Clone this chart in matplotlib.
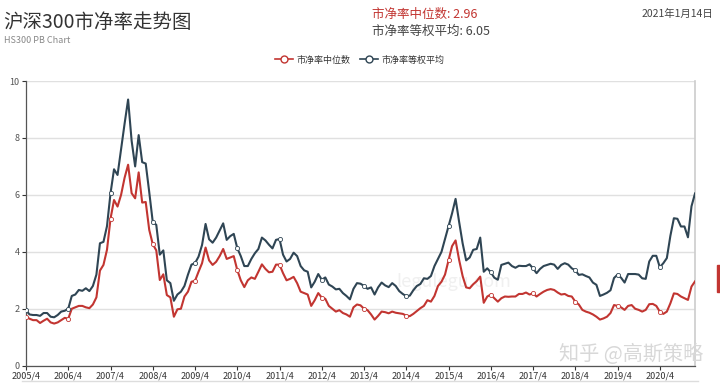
import matplotlib
matplotlib.use("Agg")
import matplotlib.pyplot as plt
from matplotlib.lines import Line2D
from matplotlib.patches import Rectangle
import numpy as np

plt.rcParams['font.family'] = ['Noto Sans CJK SC', 'DejaVu Sans']

# monthly values, 2005/4 .. 2021/1
pb_avg = [1.95, 1.8, 1.78, 1.78, 1.75, 1.85, 1.85, 1.72, 1.7, 1.78, 1.9, 1.93,
          2.0, 2.45, 2.5, 2.66, 2.63, 2.72, 2.62, 2.8, 3.2, 4.3, 4.35, 4.9,
          6.05, 6.9, 6.7, 7.6, 8.5, 9.35, 7.9, 7.0, 8.1, 7.15, 7.1, 6.1,
          5.05, 4.95, 3.9, 4.05, 3.0, 2.9, 2.28, 2.5, 2.6, 2.8, 3.2, 3.55,
          3.6, 3.83, 4.24, 4.98, 4.44, 4.32, 4.5, 4.75, 5.0, 4.42, 4.55, 4.63,
          4.13, 3.85, 3.5, 3.5, 3.75, 3.95, 4.1, 4.5, 4.4, 4.25, 4.12, 4.42,
          4.45, 3.9, 3.66, 3.75, 3.97, 3.85, 3.5, 3.35, 3.3, 2.75, 2.95, 3.22,
          3.02, 3.1, 2.85, 2.78, 2.68, 2.7, 2.55, 2.45, 2.33, 2.7, 2.9, 2.88,
          2.8, 2.7, 2.75, 2.5, 2.75, 2.92, 2.82, 2.76, 2.9, 2.8, 2.62, 2.52,
          2.44, 2.46, 2.65, 2.8, 2.87, 3.07, 3.05, 3.15, 3.5, 3.75, 4.0, 4.45,
          4.9, 5.35, 5.86, 5.06, 4.3, 3.7, 3.8, 4.07, 4.1, 4.5, 3.3, 3.42,
          3.28, 3.09, 3.02, 3.54, 3.58, 3.62, 3.5, 3.44, 3.51, 3.5, 3.5, 3.56,
          3.42, 3.25, 3.4, 3.5, 3.54, 3.58, 3.55, 3.4, 3.54, 3.6, 3.55, 3.42,
          3.35, 3.19, 3.21, 3.15, 3.1, 2.92, 2.84, 2.45, 2.5, 2.56, 2.65, 3.08,
          3.2, 3.09, 2.92, 3.22, 3.22, 3.22, 3.2, 3.07, 3.05, 3.66, 3.86, 3.86,
          3.46, 3.6, 3.78, 4.56, 5.18, 5.16, 4.89, 4.89, 4.51, 5.6, 6.05]

pb_median = [1.72, 1.65, 1.6, 1.6, 1.5, 1.58, 1.65, 1.52, 1.48, 1.52, 1.6, 1.68,
             1.65, 2.0, 2.05, 2.1, 2.1, 2.05, 2.02, 2.15, 2.4, 3.34, 3.54, 4.07,
             5.16, 5.82, 5.59, 6.0, 6.6, 7.06, 6.06, 5.88, 6.79, 5.73, 5.75, 4.77,
             4.27, 4.05, 3.01, 3.21, 2.48, 2.4, 1.72, 1.98, 2.0, 2.43, 2.6, 2.95,
             2.98, 3.3, 3.6, 4.15, 3.7, 3.54, 3.65, 3.85, 4.1, 3.75, 3.8, 3.85,
             3.36, 3.0, 2.76, 3.0, 3.1, 3.05, 3.3, 3.56, 3.4, 3.28, 3.3, 3.55,
             3.55, 3.25, 3.0, 3.05, 3.12, 2.9, 2.6, 2.55, 2.5, 2.1, 2.3, 2.55,
             2.39, 2.35, 2.1, 2.0, 1.9, 1.95, 1.85, 1.8, 1.72, 2.05, 2.15, 2.12,
             2.0, 1.95, 1.8, 1.62, 1.75, 1.9, 1.88, 1.84, 1.9, 1.86, 1.84, 1.82,
             1.76, 1.74, 1.82, 1.92, 2.02, 2.1, 2.3, 2.25, 2.45, 2.8, 2.95, 3.2,
             3.7, 4.2, 4.4, 3.72, 3.15, 2.75, 2.72, 2.86, 2.97, 3.13, 2.21, 2.43,
             2.5, 2.37, 2.25, 2.37, 2.43, 2.42, 2.43, 2.43, 2.52, 2.52, 2.57, 2.5,
             2.54, 2.43, 2.52, 2.6, 2.66, 2.69, 2.66, 2.57, 2.5, 2.52, 2.45, 2.43,
             2.25, 2.15, 1.96, 1.9, 1.86, 1.8, 1.72, 1.62, 1.66, 1.72, 1.85, 2.13,
             2.1, 2.05, 1.96, 2.1, 2.13, 2.0, 1.96, 1.9, 1.96, 2.16, 2.17, 2.1,
             1.9, 1.82, 1.9, 2.19, 2.54, 2.52, 2.43, 2.37, 2.31, 2.78, 2.96]

tick_labels = ["2005/4", "2006/4", "2007/4", "2008/4", "2009/4", "2010/4",
               "2011/4", "2012/4", "2013/4", "2014/4", "2015/4", "2016/4",
               "2017/4", "2018/4", "2019/4", "2020/4"]
y_ticks = [0, 2, 4, 6, 8, 10]

red = '#c23531'
dark = '#2f4554'

fig = plt.figure(figsize=(7.2, 3.84), dpi=100)
ax = fig.add_axes([0.0361, 0.0477, 0.9292, 0.7413])

x = np.arange(len(pb_avg))
ax.plot(x, pb_median, color=red, lw=1.5, marker='o', markevery=12, ms=3,
        mfc='white', mec=red, mew=0.6, label='市净率中位数', zorder=3)
ax.plot(x, pb_avg, color=dark, lw=1.5, marker='o', markevery=12, ms=3,
        mfc='white', mec=dark, mew=0.6, label='市净率等权平均', zorder=3)

ax.set_xlim(0, len(pb_avg) - 1)
ax.set_ylim(0, 10)
ax.set_xticks(np.arange(len(tick_labels)) * 12)
ax.set_xticklabels(tick_labels)
ax.set_yticks(y_ticks)
ax.tick_params(axis='both', labelsize=6.5, colors='#333333', length=3, width=0.8, pad=1.5)
ax.tick_params(axis='y', labelcolor='#555555')
ax.grid(axis='y', color='#e0e0e0', lw=1)
ax.set_axisbelow(True)
for s in ['left', 'bottom']:
    ax.spines[s].set_color('#555555')
    ax.spines[s].set_linewidth(0.9)
ax.spines['top'].set_visible(False)
ax.spines['right'].set_color('#cccccc')
ax.spines['right'].set_linewidth(1.2)

# watermarks
ax.text(0.64, 0.295, 'legulegu.com', transform=ax.transAxes, fontsize=13,
        color='#f0f0f0', ha='center', va='center', zorder=1)
ax.text(0.905, 0.04, '知乎 @高斯策略', transform=ax.transAxes, fontsize=14.5,
        color='#d8d8d8', ha='center', va='center', zorder=4)

# header texts
fig.text(0.004, 0.968, '沪深300市净率走势图', fontsize=14, color='#333333', va='top')
fig.text(0.005, 0.895, 'HS300 PB Chart', fontsize=6.5, color='#888888', va='center')
fig.text(0.516, 0.963, '市净率中位数: 2.96', fontsize=9, color=red, va='center')
fig.text(0.516, 0.918, '市净率等权平均: 6.05', fontsize=9, color='#444444', va='center')
fig.text(0.99, 0.963, '2021年1月14日', fontsize=7.5, color='#444444', va='center', ha='right')

handles = [Line2D([], [], color=red, lw=1.2, marker='o', ms=5, mfc='white', mec=red),
           Line2D([], [], color=dark, lw=1.2, marker='o', ms=5, mfc='white', mec=dark)]
fig.legend(handles, ['市净率中位数', '市净率等权平均'], loc='center',
           bbox_to_anchor=(0.5, 1 - 60 / 384), ncol=2, frameon=False,
           fontsize=6.5, handlelength=2.0, columnspacing=1.0, handletextpad=0.4,
           labelcolor='#333333')

fig.add_artist(Rectangle((0.996, 1 - 292 / 384), 0.004, 27 / 384, color=red,
                         transform=fig.transFigure))
fig.add_artist(Line2D([0.03, 0.97], [1 - 381 / 384] * 2, color='#dddddd', lw=1,
                      transform=fig.transFigure))

fig.savefig('out.png', dpi=100)
